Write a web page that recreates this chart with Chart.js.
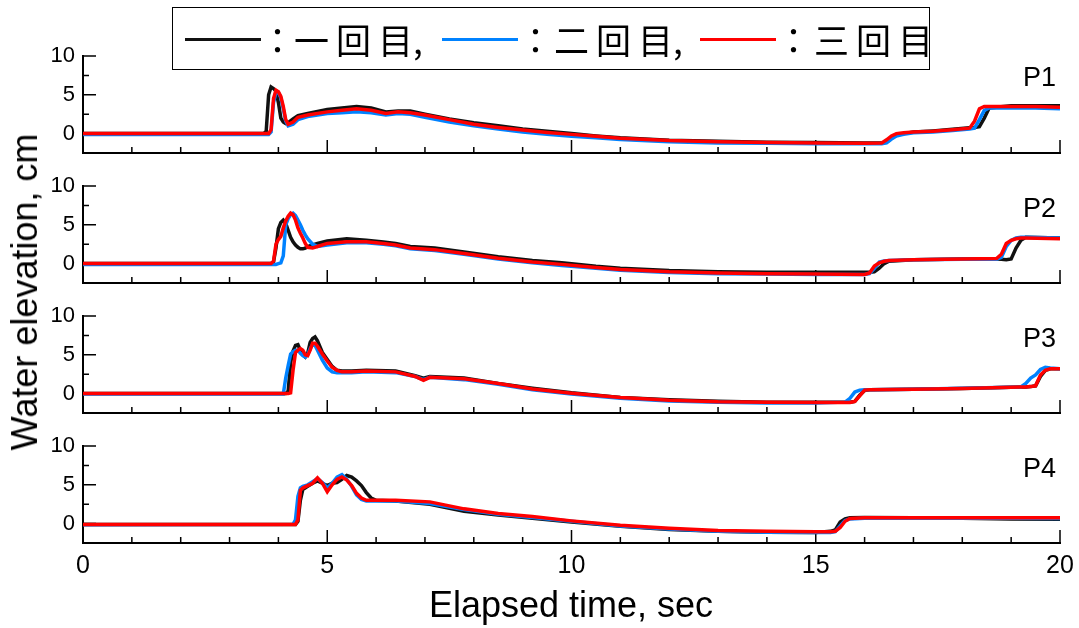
<!DOCTYPE html>
<html>
<head>
<meta charset="utf-8">
<script src="https://cdn.jsdelivr.net/npm/chart.js@4.4.1/dist/chart.umd.min.js"></script>
<style>
  body { margin: 0; background: #fff; }
  #wrap { position: relative; width: 1079px; height: 628px; overflow: hidden; font-family: "Liberation Sans", Arial, sans-serif; color: #000; }
  canvas { position: absolute; left: 0; }
  .plabel { position: absolute; right: 23px; font-size: 27px; line-height: 1; }
  .lg { position: absolute; font-family: "Noto Sans CJK JP", sans-serif; font-size: 35px; line-height: 1; white-space: nowrap; }
  .lgline { position: absolute; height: 3px; width: 76px; top: 38px; }
  #legendBox { position: absolute; left: 172px; top: 7px; width: 758px; height: 63px; box-sizing: border-box; border: 1.5px solid #000; background: #fff; }
  #ytitle { position: absolute; left: 25px; top: 292px; font-size: 36px; line-height: 1; white-space: nowrap; transform: translate(-50%, -50%) rotate(-90deg); }
  #xtitle { position: absolute; left: 571px; top: 587px; font-size: 36px; line-height: 1; white-space: nowrap; transform: translateX(-50%); }
</style>
</head>
<body>
<div id="wrap">
  <canvas id="c1" width="1079" height="120" style="top:44px"></canvas>
  <canvas id="c2" width="1079" height="120" style="top:174px"></canvas>
  <canvas id="c3" width="1079" height="120" style="top:304px"></canvas>
  <canvas id="c4" width="1079" height="194" style="top:434px"></canvas>

  <div id="legendBox"></div>
  <div class="lgline" style="left:185px;background:#111"></div>
  <span class="lg" style="left:260px;top:21px">：</span>
  <span class="lg" style="left:294px;top:21px;letter-spacing:7px">一回目</span>
  <span class="lg" style="left:413px;top:21px">,</span>
  <div class="lgline" style="left:442px;background:rgb(0,130,255)"></div>
  <span class="lg" style="left:518px;top:21px">：</span>
  <span class="lg" style="left:554px;top:21px;letter-spacing:7px">二回目</span>
  <span class="lg" style="left:673px;top:21px">,</span>
  <div class="lgline" style="left:700px;background:#ff0000"></div>
  <span class="lg" style="left:776px;top:21px">：</span>
  <span class="lg" style="left:814px;top:21px;letter-spacing:7px">三回目</span>

  <div class="plabel" style="top:64px">P1</div>
  <div class="plabel" style="top:195px">P2</div>
  <div class="plabel" style="top:325px">P3</div>
  <div class="plabel" style="top:455px">P4</div>

  <div id="ytitle">Water elevation, cm</div>
  <div id="xtitle">Elapsed time, sec</div>
</div>

<script>
// P1
const p1Time = [0, 3.7, 3.75, 3.8, 3.85, 3.9, 3.95, 4.0, 4.05, 4.1, 4.15, 4.2, 4.3, 4.4, 4.6, 5.0, 5.3, 5.6, 5.9, 6.2, 6.45, 6.7, 7.0, 7.5, 8.0, 8.5, 9.0, 9.5, 10.0, 10.5, 11, 12, 13, 14, 15, 16, 16.35, 16.45, 16.55, 16.65, 16.8, 17.0, 17.4, 17.8, 18.15, 18.25, 18.35, 18.45, 18.55, 19, 19.5, 20];
const p1Run1 = [0, 0, 0.3, 5.0, 6.0, 5.8, 5.5, 4.0, 2.0, 1.5, 1.3, 1.4, 1.9, 2.3, 2.6, 3.1, 3.3, 3.5, 3.3, 2.8, 2.9, 2.9, 2.5, 1.9, 1.4, 1.0, 0.6, 0.3, 0.0, -0.3, -0.55, -0.85, -1.0, -1.1, -1.15, -1.2, -1.2, -1.1, -0.6, -0.2, 0.0, 0.2, 0.35, 0.55, 0.75, 0.8, 0.9, 2.0, 3.3, 3.6, 3.6, 3.6];
const p1Run2 = [-0.1, -0.1, -0.1, -0.1, 0.2, 4.0, 5.3, 5.3, 4.6, 3.2, 1.6, 1.0, 1.2, 1.8, 2.2, 2.6, 2.7, 2.8, 2.7, 2.4, 2.6, 2.5, 2.1, 1.5, 1.0, 0.6, 0.2, -0.1, -0.35, -0.55, -0.75, -1.05, -1.2, -1.25, -1.3, -1.3, -1.3, -1.2, -0.7, -0.3, -0.1, 0.1, 0.2, 0.4, 0.6, 0.7, 1.8, 3.0, 3.3, 3.3, 3.3, 3.2];
const p1Run3 = [0, 0, 0, 0, 0.5, 4.5, 5.6, 5.4, 4.8, 3.5, 1.8, 1.2, 1.5, 2.1, 2.4, 2.8, 3.0, 3.2, 3.0, 2.6, 2.8, 2.7, 2.4, 1.8, 1.2, 0.8, 0.45, 0.15, -0.1, -0.35, -0.6, -0.9, -1.05, -1.15, -1.2, -1.25, -1.2, -0.8, -0.3, 0.0, 0.1, 0.2, 0.3, 0.5, 0.7, 1.6, 3.2, 3.5, 3.5, 3.5, 3.5, 3.4];

// P2
const p2Time = [0, 3.85, 3.9, 3.95, 4.0, 4.05, 4.1, 4.15, 4.2, 4.25, 4.3, 4.35, 4.4, 4.45, 4.5, 4.55, 4.6, 4.7, 4.8, 5.0, 5.4, 5.8, 6.15, 6.4, 6.7, 7.2, 7.8, 8.5, 9.2, 9.8, 10.5, 11, 12, 13, 14, 15, 16, 16.1, 16.2, 16.3, 16.4, 16.5, 17.0, 18.0, 18.7, 18.8, 18.9, 19.0, 19.1, 19.2, 19.3, 20];
const p2Run1 = [0, 0, 0.2, 2.0, 4.5, 5.3, 5.6, 5.2, 4.3, 3.4, 2.8, 2.4, 2.1, 1.9, 1.9, 2.0, 2.2, 2.4, 2.6, 2.9, 3.2, 3.0, 2.8, 2.6, 2.2, 2.0, 1.5, 0.9, 0.4, 0.1, -0.35, -0.6, -0.9, -1.05, -1.1, -1.1, -1.1, -1.1, -1.05, -0.6, 0.0, 0.3, 0.5, 0.6, 0.6, 0.55, 0.5, 0.6, 2.0, 3.0, 3.4, 3.3];
const p2Run2 = [-0.1, -0.1, -0.1, -0.1, 0, 0.1, 1.0, 5.0, 5.8, 6.3, 6.5, 6.2, 5.6, 5.0, 4.3, 3.7, 3.2, 2.5, 2.2, 2.4, 2.7, 2.7, 2.5, 2.3, 1.9, 1.7, 1.2, 0.6, 0.1, -0.25, -0.6, -0.85, -1.15, -1.3, -1.35, -1.4, -1.4, -1.3, -0.6, 0.2, 0.35, 0.4, 0.5, 0.55, 0.55, 0.8, 2.2, 3.0, 3.3, 3.4, 3.4, 3.3];
const p2Run3 = [0, 0, 0.3, 2.5, 3.1, 3.5, 4.6, 5.5, 6.1, 6.5, 6.3, 5.6, 4.6, 3.9, 3.3, 2.6, 2.1, 2.0, 2.2, 2.6, 2.8, 2.8, 2.6, 2.4, 2.0, 1.8, 1.3, 0.7, 0.2, -0.1, -0.5, -0.75, -1.05, -1.2, -1.3, -1.35, -1.4, -1.2, -0.3, 0.1, 0.3, 0.4, 0.5, 0.6, 0.65, 1.2, 2.6, 3.0, 3.2, 3.3, 3.3, 3.2];

// P3
const p3Time = [0, 4.1, 4.15, 4.2, 4.25, 4.3, 4.35, 4.4, 4.45, 4.5, 4.55, 4.6, 4.65, 4.7, 4.75, 4.8, 4.9, 5.0, 5.1, 5.2, 5.3, 5.5, 5.8, 6.4, 6.8, 6.97, 7.1, 7.8, 8.5, 9.2, 10, 11, 12, 13, 14, 15, 15.6, 15.7, 15.8, 15.9, 16.0, 16.1, 17, 18, 19.2, 19.3, 19.4, 19.5, 19.6, 19.7, 19.8, 20];
const p3Run1 = [0, 0, 0, 0.3, 4.0, 5.5, 6.2, 6.3, 5.6, 5.0, 4.7, 5.2, 6.6, 7.1, 7.3, 6.8, 5.3, 4.4, 3.5, 3.0, 2.9, 2.9, 3.0, 2.9, 2.3, 2.0, 2.2, 2.0, 1.3, 0.7, 0.1, -0.5, -0.8, -1.0, -1.1, -1.1, -1.1, -1.1, -1.0, -0.2, 0.4, 0.5, 0.55, 0.65, 0.85, 0.85, 0.9, 1.0, 2.2, 3.0, 3.2, 3.2];
const p3Run2 = [-0.05, -0.05, 2.0, 3.6, 5.1, 5.4, 5.6, 5.6, 5.2, 4.9, 4.7, 5.0, 5.8, 6.3, 6.2, 5.6, 4.3, 3.3, 2.8, 2.7, 2.7, 2.7, 2.8, 2.7, 2.2, 1.8, 2.1, 1.8, 1.2, 0.5, -0.05, -0.6, -0.95, -1.1, -1.2, -1.2, -1.1, -0.6, 0.2, 0.45, 0.5, 0.5, 0.55, 0.7, 0.85, 1.3, 2.0, 2.4, 3.1, 3.4, 3.3, 3.2];
const p3Run3 = [0, 0, 0, 0, 0.1, 3.0, 5.3, 5.6, 5.8, 5.6, 5.0, 4.9, 5.6, 6.5, 6.5, 6.1, 5.1, 4.2, 3.4, 3.0, 2.8, 2.8, 2.9, 2.8, 2.2, 1.7, 2.1, 1.9, 1.3, 0.6, 0.05, -0.5, -0.85, -1.05, -1.1, -1.15, -1.15, -1.15, -1.0, -0.3, 0.45, 0.5, 0.55, 0.65, 0.85, 0.85, 0.9, 1.0, 2.4, 3.0, 3.2, 3.2];

// P4
const p4Time = [0, 4.3, 4.35, 4.4, 4.45, 4.5, 4.6, 4.7, 4.8, 4.9, 5.0, 5.1, 5.2, 5.3, 5.4, 5.5, 5.6, 5.7, 5.8, 5.9, 6.0, 6.4, 7.1, 7.8, 8.5, 9.2, 10, 11, 12, 13, 14, 15, 15.3, 15.4, 15.5, 15.6, 15.7, 16, 17, 18, 19, 20];
const p4Run1 = [-0.1, -0.1, -0.1, 0.3, 3.0, 4.4, 4.8, 5.2, 5.5, 5.2, 4.9, 5.2, 5.3, 5.7, 6.2, 6.0, 5.5, 4.9, 4.0, 3.3, 3.0, 2.9, 2.5, 1.6, 1.1, 0.7, 0.2, -0.35, -0.75, -1.0, -1.1, -1.15, -1.0, -0.8, 0.2, 0.6, 0.75, 0.8, 0.75, 0.7, 0.6, 0.55];
const p4Run2 = [-0.15, -0.1, 0.5, 3.5, 4.6, 4.8, 5.0, 5.4, 5.8, 5.3, 4.6, 5.2, 6.0, 6.3, 5.7, 4.8, 3.7, 3.1, 2.9, 2.9, 2.9, 2.9, 2.6, 1.8, 1.2, 0.8, 0.3, -0.3, -0.7, -1.0, -1.1, -1.15, -1.15, -1.05, -0.3, 0.4, 0.6, 0.7, 0.7, 0.7, 0.7, 0.65];
const p4Run3 = [-0.1, -0.1, -0.1, 0.5, 4.3, 4.6, 4.9, 5.2, 5.9, 5.2, 4.1, 5.0, 5.7, 6.0, 5.6, 4.9, 3.9, 3.3, 3.0, 3.0, 3.0, 3.0, 2.8, 1.9, 1.3, 0.9, 0.35, -0.2, -0.6, -0.9, -1.0, -1.05, -1.05, -1.0, -0.5, 0.3, 0.65, 0.75, 0.75, 0.75, 0.75, 0.75];

const runColors = ["#111111", "rgb(0,130,255)", "#ff0000"];

Chart.defaults.font.family = '"Liberation Sans", Arial, sans-serif';
Chart.defaults.color = "#000";

// tick marks pointing into the plot, longer ones every 5
const tickMarks = {
  id: "tickMarks",
  beforeDatasetsDraw(chart) {
    const { ctx, chartArea: a, scales: { x, y } } = chart;
    ctx.save();
    ctx.strokeStyle = "#000";
    ctx.lineWidth = 1.5;
    ctx.beginPath();
    x.ticks.forEach((tk) => {
      const px = x.getPixelForValue(tk.value);
      const len = tk.value % 5 === 0 ? 13 : 6;
      ctx.moveTo(px, a.bottom);
      ctx.lineTo(px, a.bottom - len);
    });
    y.ticks.forEach((tk) => {
      if (tk.value <= y.min) return;
      const py = y.getPixelForValue(tk.value);
      const len = tk.value % 5 === 0 ? 13 : 6;
      ctx.moveTo(a.left, py);
      ctx.lineTo(a.left + len, py);
    });
    ctx.stroke();
    ctx.restore();
  },
};

function makePanel(id, times, runs, showX) {
  const canvas = document.getElementById(id);
  const xHeight = canvas.height - 12 - 97;
  return new Chart(canvas, {
    type: "line",
    data: {
      datasets: runs.map((vals, i) => ({
        data: times.map((t, j) => ({ x: t, y: vals[j] })),
        borderColor: runColors[i],
        borderWidth: 3.5,
        pointRadius: 0,
        tension: 0,
        fill: false,
        order: 3 - i,
      })),
    },
    options: {
      responsive: false,
      animation: false,
      events: [],
      layout: { padding: { top: 12, right: 19, left: 0, bottom: 0 } },
      plugins: { legend: { display: false }, tooltip: { enabled: false } },
      scales: {
        x: {
          type: "linear",
          min: 0,
          max: 20,
          grid: { display: false, drawTicks: false },
          border: { display: true, color: "#000", width: 2 },
          ticks: {
            display: showX,
            stepSize: 1,
            autoSkip: false,
            maxRotation: 0,
            padding: 8,
            font: { size: 25 },
            callback: (v) => (v % 5 === 0 ? v : ""),
          },
          afterFit: (s) => {
            s.height = xHeight;
            s.paddingLeft = 0;
            s.paddingRight = 0;
          },
        },
        y: {
          min: -2.5,
          max: 10,
          grid: { display: false, drawTicks: false },
          border: { display: true, color: "#000", width: 2 },
          ticks: {
            stepSize: 2.5,
            autoSkip: false,
            padding: 8,
            font: { size: 22 },
            callback: (v) => (v % 5 === 0 ? v : ""),
          },
          afterFit: (s) => {
            s.width = 83;
            s.paddingTop = 0;
            s.paddingBottom = 0;
          },
        },
      },
    },
    plugins: [tickMarks],
  });
}

makePanel("c1", p1Time, [p1Run1, p1Run2, p1Run3], false);
makePanel("c2", p2Time, [p2Run1, p2Run2, p2Run3], false);
makePanel("c3", p3Time, [p3Run1, p3Run2, p3Run3], false);
makePanel("c4", p4Time, [p4Run1, p4Run2, p4Run3], true);
</script>
</body>
</html>
